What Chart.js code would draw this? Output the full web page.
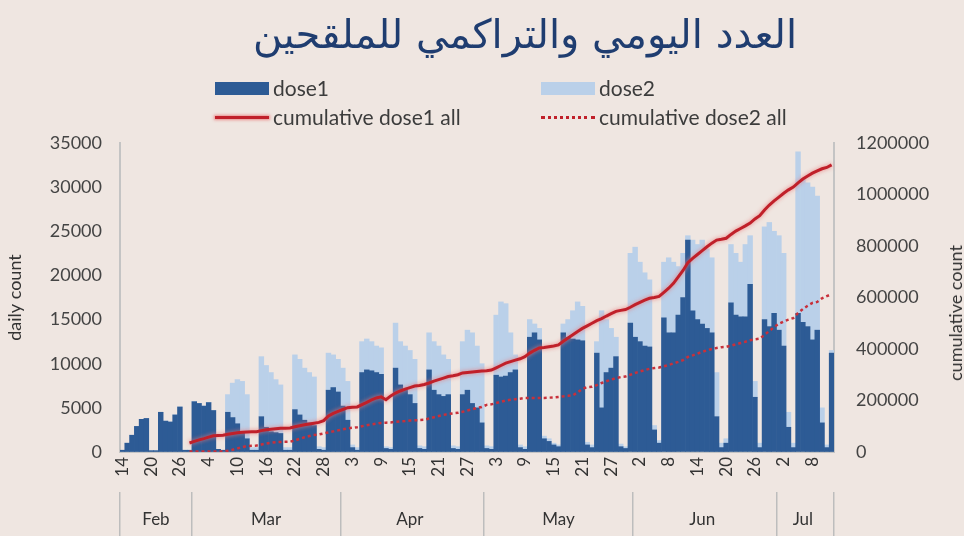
<!DOCTYPE html>
<html>
<head>
<meta charset="utf-8">
<script src="https://cdn.jsdelivr.net/npm/chart.js@4.4.1/dist/chart.umd.min.js"></script>
<style>
  html, body { margin: 0; padding: 0; background: #efe6e1; }
  #wrap { position: relative; width: 964px; height: 536px; overflow: hidden; }
  #chart { position: absolute; left: 0; top: 0; }
  .txt { position: absolute; font-family: Lato, sans-serif; color: #333; white-space: nowrap; }
  #title { left: 150px; width: 750px; top: 11px; text-align: center; font-family: "DejaVu Sans", sans-serif; font-size: 40px; color: #1f3d70; }
  .sw { position: absolute; }
</style>
</head>
<body>
<div id="wrap">
  <canvas id="chart" width="964" height="536"></canvas>
  <div id="title" class="txt" dir="rtl">العدد اليومي والتراكمي للملقحين</div>
  <div id="legend"></div>
  <div id="y1title" class="txt" style="left:955px;top:313px;font-size:18px;transform:translate(-50%,-50%) rotate(-90deg);">cumulative count</div>
</div>
<script>
// categories: one bar per day, Feb 14 .. Jul 12
var monthNames = ['Feb', 'Mar', 'Apr', 'May', 'Jun', 'Jul'];
var monthFirstDay = [14, 1, 1, 1, 1, 1];
var monthLastDay = [28, 31, 30, 31, 30, 12];

var dose1 = [
    200, 1000, 1900, 2900, 3700, 3800, 150, 150, 4500, 3500, 3400, 4200, 5100, 200,
    200, 5700, 5500, 5200, 5600, 4700, 300, 200, 4500, 3900, 3200, 2300, 1500, 200,
    200, 4000, 2800, 2300, 2200, 2100, 200, 200, 4800, 4200, 3600, 3300, 3000, 300,
    200, 7000, 7300, 6800, 5200, 3600, 500, 200, 9000, 9300, 9200, 9000, 8800, 400,
    300, 9500, 7600, 7000, 6500, 5500, 400, 300, 9300, 7000, 6500, 6300, 6500, 400,
    300, 6500, 7000, 5500, 5000, 3300, 400, 300, 8700, 8500, 8600, 9000, 9300, 500,
    300, 13000, 13500, 12700, 1500, 1200, 800, 600, 13500, 13000, 12800, 12700, 12600, 800,
    500, 11200, 5000, 9000, 9500, 10800, 600, 400, 14600, 13000, 12500, 12000, 11900, 2500,
    1000, 15200, 13500, 13500, 15500, 17500, 24000, 16000, 15000, 14500, 14000, 13500, 4000, 500,
    1000, 16900, 15500, 15300, 15300, 19000, 6200, 500, 15000, 14200, 15700, 13800, 12000, 2800,
    500, 15700, 14700, 14200, 12700, 13800, 3300, 500, 11200
];
var dose2 = [
    0, 0, 0, 0, 0, 0, 0, 0, 0, 0, 0, 0, 0, 0,
    0, 0, 0, 0, 0, 0, 0, 0, 2000, 3900, 5000, 5700, 5000, 300,
    300, 6800, 7000, 6700, 6000, 5500, 300, 300, 6200, 6300, 5900, 5700, 5500, 300,
    300, 4200, 3700, 3700, 4300, 4400, 300, 300, 3500, 3500, 3300, 3000, 3000, 200,
    200, 5100, 4900, 5000, 5000, 5000, 300, 300, 4200, 5500, 5500, 4700, 4000, 300,
    300, 6000, 6800, 8000, 7000, 6700, 300, 300, 6800, 8500, 8200, 4500, 1700, 300,
    300, 2000, 1000, 1300, 300, 300, 200, 200, 1000, 2000, 3200, 4300, 3900, 300,
    300, 1300, 11000, 6000, 4500, 2200, 300, 200, 7900, 10200, 9000, 8300, 7600, 500,
    300, 6300, 8500, 8000, 5500, 5000, 500, 8000, 8500, 9500, 9000, 8500, 5000, 500,
    500, 6600, 7000, 6200, 8200, 5500, 1800, 500, 10500, 11800, 9300, 10700, 10500, 1700,
    500, 18300, 16300, 16300, 17300, 15200, 1700, 300, 300
];
// cumulative totals (right axis), the lines start on Feb 28
var cumDose1 = [
    null, null, null, null, null, null, null, null, null, null, null, null, null, null,
    35000, 41000, 47000, 52000, 58000, 63000, 64000, 65000, 69000, 72000, 75000, 77000, 78000, 78500,
    79000, 83000, 86000, 88000, 90000, 92000, 92500, 93000, 98000, 102000, 106000, 109000, 112000, 115000,
    122000, 140000, 150000, 158000, 165000, 172000, 174000, 175000, 184000, 193000, 202000, 210000, 214000, 203000,
    218000, 229000, 237000, 244000, 250000, 256000, 258000, 262000, 268000, 275000, 281000, 287000, 293000, 296000,
    300000, 307000, 309000, 311000, 313000, 315000, 316000, 318000, 327000, 336000, 345000, 351000, 357000, 362000,
    370000, 384000, 395000, 404000, 406000, 409000, 412000, 416000, 430000, 443000, 455000, 468000, 480000, 490000,
    500000, 510000, 518000, 528000, 537000, 546000, 550000, 553000, 562000, 572000, 581000, 590000, 597000, 600000,
    604000, 620000, 636000, 655000, 680000, 705000, 735000, 752000, 767000, 782000, 797000, 811000, 823000, 826000,
    830000, 845000, 858000, 868000, 878000, 889000, 905000, 918000, 940000, 959000, 975000, 990000, 1005000, 1018000,
    1029000, 1045000, 1060000, 1072000, 1083000, 1092000, 1100000, 1105000, 1115000
];
var cumDose2 = [
    null, null, null, null, null, null, null, null, null, null, null, null, null, null,
    2000, 2000, 2000, 2000, 2000, 2000, 2000, 2000, 5000, 9000, 14000, 19000, 23000, 24000,
    25000, 29000, 33000, 36000, 38000, 39000, 39500, 40000, 45000, 51000, 57000, 62000, 66000, 68000,
    72000, 76000, 80000, 84000, 88000, 92000, 94000, 96000, 100000, 104000, 107000, 110000, 113000, 114000,
    115000, 117000, 119000, 120000, 122000, 123000, 124000, 125000, 130000, 135000, 140000, 144000, 148000, 150000,
    152000, 156000, 161000, 166000, 171000, 175000, 183000, 185000, 190000, 195000, 200000, 203000, 205000, 207000,
    210000, 210000, 210000, 210000, 210000, 211000, 212000, 214000, 216000, 218000, 220000, 232000, 245000, 252000,
    253000, 260000, 268000, 275000, 281000, 287000, 291000, 293000, 300000, 307000, 313000, 318000, 323000, 326000,
    328000, 333000, 338000, 344000, 350000, 357000, 369000, 375000, 382000, 389000, 395000, 400000, 404000, 407000,
    408000, 413000, 418000, 423000, 428000, 434000, 438000, 440000, 455000, 470000, 485000, 498000, 507000, 514000,
    520000, 540000, 555000, 568000, 579000, 583000, 597000, 605000, 613000
];

var leftTicks = [0, 5000, 10000, 15000, 20000, 25000, 30000, 35000];
var rightTicks = [0, 200000, 400000, 600000, 800000, 1000000, 1200000];

var dark = '#2d5b95';
var light = '#bad0e9';
var red = '#c0202a';

// day labels, first day of each month and where the month name goes
var dayLabels = [];
var monthStart = [];
var monthMid = {};
monthNames.forEach((m, k) => {
    var start = dayLabels.length;
    for (var d = monthFirstDay[k]; d <= monthLastDay[k]; d++) {
        dayLabels.push(String(d));
    }
    monthStart.push(start);
    monthMid[Math.floor((start + dayLabels.length - 1) / 2)] = m;
});

// html legend
var legendItems = [
    { text: 'dose1', x: 215, y: 88, kind: 'box', color: dark },
    { text: 'dose2', x: 541, y: 88, kind: 'box', color: light },
    { text: 'cumulative dose1 all', x: 215, y: 117, kind: 'line', color: red },
    { text: 'cumulative dose2 all', x: 541, y: 117, kind: 'dots', color: red }
];
var legend = document.getElementById('legend');
legendItems.forEach((it) => {
    var sw = document.createElement('div');
    sw.className = 'sw';
    sw.style.left = it.x + 'px';
    sw.style.width = '54px';
    if (it.kind == 'box') {
        sw.style.top = (it.y - 6) + 'px';
        sw.style.height = '13px';
        sw.style.background = it.color;
    } else if (it.kind == 'line') {
        sw.style.top = (it.y - 1) + 'px';
        sw.style.height = '3px';
        sw.style.background = it.color;
        sw.style.boxShadow = '0 0 3px 1px rgba(235,130,130,0.9)';
    } else {
        sw.style.top = (it.y - 1) + 'px';
        sw.style.height = '0px';
        sw.style.borderTop = '3px dotted ' + it.color;
    }
    legend.appendChild(sw);
    var t = document.createElement('div');
    t.className = 'txt';
    t.textContent = it.text;
    t.style.left = (it.x + 58) + 'px';
    t.style.top = (it.y - 13) + 'px';
    t.style.fontSize = '21px';
    t.style.lineHeight = '26px';
    t.style.color = '#3c3c3c';
    legend.appendChild(t);
});

var glow = {
    id: 'glow',
    beforeDatasetDraw(chart, args) {
        if (args.index === 0) {
            chart.ctx.save();
            chart.ctx.shadowColor = 'rgba(235,120,120,0.9)';
            chart.ctx.shadowBlur = 4;
        }
    },
    afterDatasetDraw(chart, args) {
        if (args.index === 0) chart.ctx.restore();
    }
};

var tickFont = { family: 'Lato', size: 18 };

var ctx = document.getElementById('chart').getContext('2d');
var myChart = new Chart(ctx, {
    data: {
        labels: dayLabels,
        datasets: [{
            type: 'line',
            label: 'cumulative dose1 all',
            data: cumDose1,
            yAxisID: 'y1',
            borderColor: red,
            borderWidth: 3,
            pointRadius: 0,
            order: 0
        }, {
            type: 'line',
            label: 'cumulative dose2 all',
            data: cumDose2,
            yAxisID: 'y1',
            borderColor: '#c8303a',
            borderWidth: 2.5,
            borderDash: [3, 3],
            pointRadius: 0,
            order: 0
        }, {
            type: 'bar',
            label: 'dose1',
            data: dose1,
            yAxisID: 'y',
            backgroundColor: dark,
            barPercentage: 1,
            categoryPercentage: 1,
            order: 1
        }, {
            type: 'bar',
            label: 'dose2',
            data: dose2,
            yAxisID: 'y',
            backgroundColor: light,
            barPercentage: 1,
            categoryPercentage: 1,
            order: 1
        }]
    },
    options: {
        responsive: false,
        animation: false,
        layout: { padding: { top: 143, left: 0, right: 0, bottom: 0 } },
        plugins: {
            legend: { display: false },
            title: { display: false },
            tooltip: { enabled: false }
        },
        scales: {
            x: {
                stacked: true,
                offset: true,
                weight: 0,
                grid: { drawOnChartArea: false, drawTicks: false },
                border: { color: '#c4c4c4', width: 2 },
                ticks: {
                    autoSkip: false,
                    minRotation: 90,
                    maxRotation: 90,
                    padding: 5,
                    color: '#333',
                    font: { family: 'Lato', size: 17 },
                    callback: (v, i) => i % 6 === 0 ? dayLabels[i] : ''
                },
                afterFit: (s) => { s.height = 40; }
            },
            xm: {
                type: 'category',
                position: 'bottom',
                offset: true,
                weight: 1,
                grid: {
                    offset: true,
                    drawOnChartArea: false,
                    drawTicks: true,
                    tickLength: 46,
                    lineWidth: 1.5,
                    color: (c) => (c.index === undefined || monthStart.includes(c.index)) ? '#bdbdbd' : 'rgba(0,0,0,0)'
                },
                border: { display: false },
                ticks: {
                    autoSkip: false,
                    minRotation: 0,
                    maxRotation: 0,
                    padding: -29,
                    color: '#333',
                    font: { family: 'Lato', size: 17 },
                    callback: (v, i) => monthMid[i] || ''
                },
                afterFit: (s) => { s.height = 44; }
            },
            y: {
                stacked: true,
                position: 'left',
                min: 0,
                max: 35000,
                afterBuildTicks: (s) => { s.ticks = leftTicks.map(v => ({ value: v })); },
                grid: { drawOnChartArea: false, drawTicks: false },
                border: { color: '#c4c4c4', width: 2 },
                ticks: { padding: 18, color: '#444', font: tickFont, callback: (v) => String(v) },
                title: { display: true, text: 'daily count', color: '#333', font: { family: 'Lato', size: 18 }, padding: { top: 4, bottom: 0 } },
                afterFit: (s) => { s.width = 120; }
            },
            y1: {
                position: 'right',
                min: 0,
                max: 1200000,
                afterBuildTicks: (s) => { s.ticks = rightTicks.map(v => ({ value: v })); },
                grid: { drawOnChartArea: false, drawTicks: false },
                border: { color: '#c4c4c4', width: 2 },
                ticks: { padding: 22, color: '#444', font: tickFont, callback: (v) => String(v) },
                afterFit: (s) => { s.width = 130; }
            }
        }
    },
    plugins: [glow]
});
</script>
</body>
</html>
